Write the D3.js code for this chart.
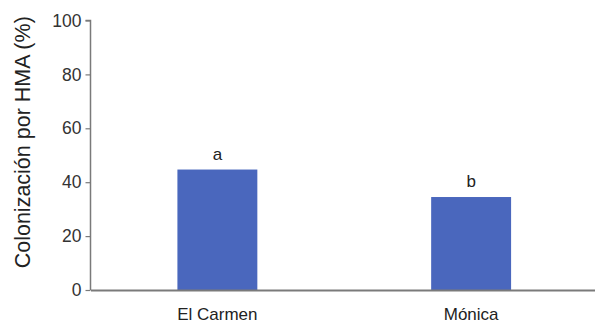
<!DOCTYPE html>
<html>
<head>
<meta charset="utf-8">
<script src="https://cdn.jsdelivr.net/npm/d3@7"></script>
<style>
  html, body { margin: 0; padding: 0; background: #fff; }
  svg { display: block; font-family: "Liberation Sans", Arial, sans-serif; }
</style>
</head>
<body>
<svg id="chart" width="595" height="323"></svg>
<script>
// Colonization by arbuscular mycorrhizal fungi per site
const sites = ["El Carmen", "Mónica"];
const colonization = [44.7, 34.5];
const groupLetters = ["a", "b"];
const yTicks = [0, 20, 40, 60, 80, 100];

const svg = d3.select("#chart");
const margin = { left: 90.5, right: -3, top: 20.5, bottom: 33 };
const W = 595, H = 323;

const x = d3.scaleBand()
  .domain(sites)
  .range([margin.left, W - margin.right])
  .paddingInner(0.685)
  .paddingOuter(0.3425);

const y = d3.scaleLinear()
  .domain([0, 100])
  .range([H - margin.bottom, margin.top]);

const axisColor = "#7a7a7a";

// bars
svg.append("g").selectAll("rect")
  .data(sites)
  .join("rect")
  .attr("x", d => x(d))
  .attr("width", x.bandwidth())
  .attr("y", (d, i) => y(colonization[i]))
  .attr("height", (d, i) => y(0) - y(colonization[i]))
  .attr("fill", "#4a67bd");

// significance letters
svg.append("g").selectAll("text")
  .data(sites)
  .join("text")
  .attr("x", d => x(d) + x.bandwidth() / 2)
  .attr("y", (d, i) => y(colonization[i]) - 10)
  .attr("text-anchor", "middle")
  .attr("font-size", 17)
  .attr("fill", "#222")
  .text((d, i) => groupLetters[i]);

// y axis
const yAxis = svg.append("g")
  .attr("transform", `translate(${margin.left},0)`)
  .call(d3.axisLeft(y).tickValues(yTicks).tickSize(5).tickPadding(4));
yAxis.select(".domain").attr("stroke", axisColor).attr("stroke-width", 1.5)
  .attr("d", `M-5,${y(100)}H0V${y(0)}`);
yAxis.selectAll(".tick line").attr("stroke", axisColor).attr("stroke-width", 1.2);
yAxis.selectAll(".tick text")
  .attr("font-size", 17.5)
  .attr("fill", "#333")
  .attr("font-family", "Liberation Sans, Arial, sans-serif");

// x axis
const xAxis = svg.append("g")
  .attr("transform", `translate(0,${y(0)})`)
  .call(d3.axisBottom(x).tickSize(0).tickPadding(18));
xAxis.select(".domain").attr("stroke", axisColor).attr("stroke-width", 2);
xAxis.selectAll(".tick text")
  .attr("font-size", 17)
  .attr("fill", "#222")
  .attr("font-family", "Liberation Sans, Arial, sans-serif");

// y axis title
svg.append("text")
  .attr("transform", `translate(30,${(y(0) + y(100)) / 2 - 13}) rotate(-90)`)
  .attr("text-anchor", "middle")
  .attr("font-size", 21.5)
  .attr("fill", "#222")
  .text("Colonización por HMA (%)");
</script>
</body>
</html>
